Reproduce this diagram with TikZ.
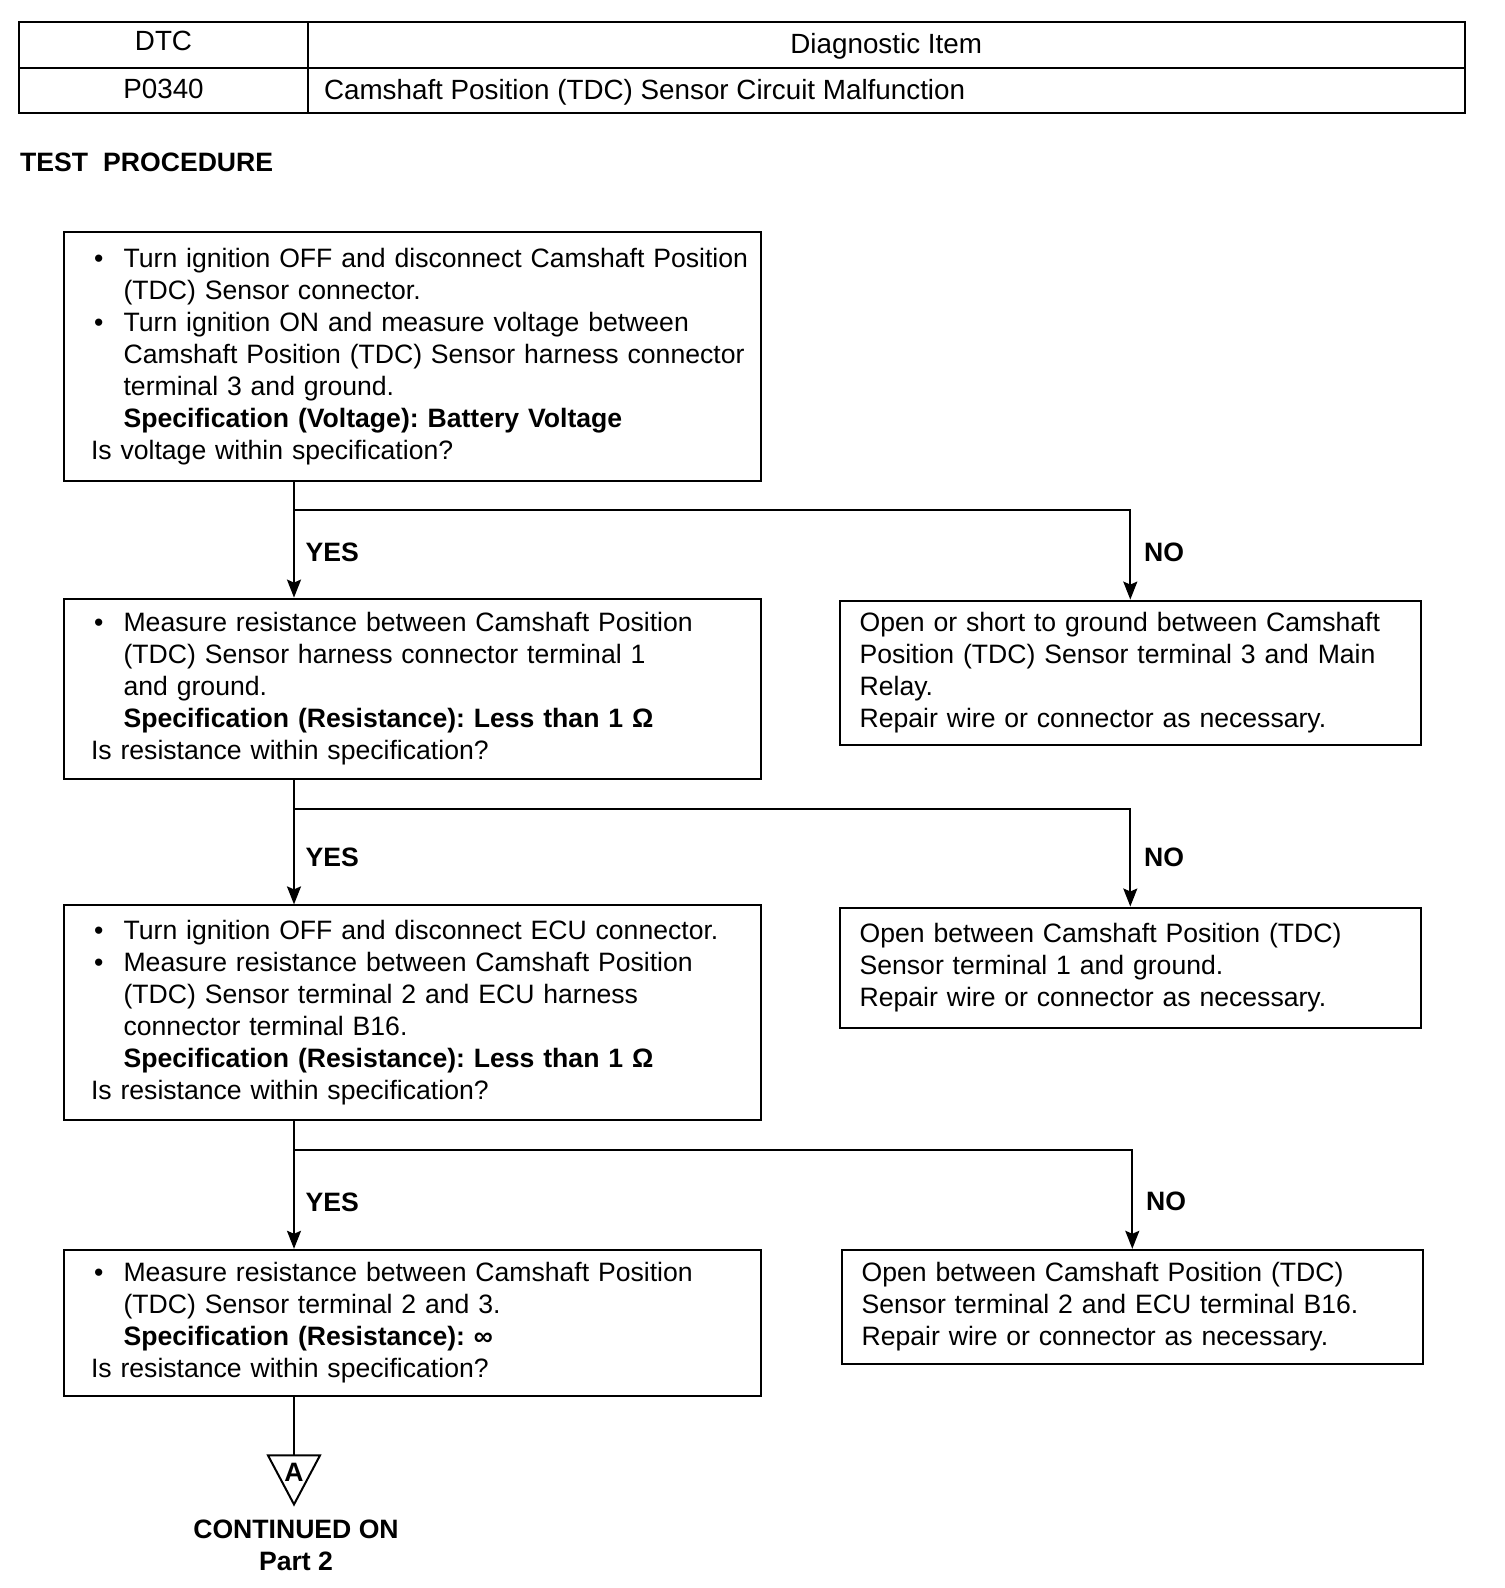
\documentclass[tikz,border=0pt]{standalone}
\usepackage{fontspec}
\setmainfont{Liberation Sans}
\usetikzlibrary{arrows.meta, positioning, calc}
\frenchspacing

\newcommand{\tpsize}{\fontsize{13.3}{16}\selectfont}
\newcommand{\tpbul}[1]{\makebox[16.3pt][l]{\hspace{1.5pt}\textbullet}\mbox{#1}}
\newcommand{\tpind}[1]{\hspace*{16.3pt}\mbox{#1}}
\newcommand{\tpspec}[1]{\hspace*{16.3pt}\mbox{\bfseries #1}}

\begin{document}
\begin{tikzpicture}[x=0.5pt, y=-0.5pt, line width=1pt, font=\tpsize,
    stepbox/.style={draw, anchor=north west, align=left, inner xsep=13.6pt, inner ysep=0pt, text width=321.2pt, minimum height=#1},
    fixbox/.style={draw, anchor=north west, align=left, inner xsep=10pt, inner ysep=0pt, text width=270.7pt, minimum height=#1},
    cell/.style={font=\fontsize{13.9}{16}\selectfont},
    answer/.style={anchor=west, font=\tpsize\bfseries},
    flow/.style={-{Stealth[length=9pt, width=7pt, inset=1.5pt]}}]
    \useasboundingbox (0,0) rectangle (1504,1588);

    % Table
    \draw (19.2,22.3) rectangle (1464.5,113.4);
    \draw (19.2,67.9) -- (1464.5,67.9);
    \draw (307.9,22.3) -- (307.9,113.4);
    \node[cell, anchor=base] (dtc) at (163.5,51) {DTC};
    \node[cell, anchor=base] (item) at (886.2,54) {Diagnostic Item};
    \node[cell, anchor=base] (code) at (163.5,99) {P0340};
    \node[cell, anchor=base west, inner xsep=0pt] (desc) at (323,100) {Camshaft Position (TDC) Sensor Circuit Malfunction};

    \node[anchor=base west, inner xsep=0pt, font=\tpsize\bfseries] (title) at (19.2,171.7) {TEST\hspace{7.5pt}PROCEDURE};

    % Test steps
    \node[stepbox=124.6pt] (b1) at (62.8,230.9) {%
        \tpbul{Turn ignition OFF and disconnect Camshaft Position}\\
        \tpind{(TDC) Sensor connector.}\\
        \tpbul{Turn ignition ON and measure voltage between}\\
        \tpind{Camshaft Position (TDC) Sensor harness connector}\\
        \tpind{terminal 3 and ground.}\\
        \tpspec{Specification (Voltage): Battery Voltage}\\
        Is voltage within specification?};
    \node[stepbox=90.1pt] (b2) at (62.8,597.6) {%
        \tpbul{Measure resistance between Camshaft Position}\\
        \tpind{(TDC) Sensor harness connector terminal 1}\\
        \tpind{and ground.}\\
        \tpspec{Specification (Resistance): Less than 1 Ω}\\
        Is resistance within specification?};
    \node[stepbox=107.4pt] (b3) at (62.8,904.4) {%
        \tpbul{Turn ignition OFF and disconnect ECU connector.}\\
        \tpbul{Measure resistance between Camshaft Position}\\
        \tpind{(TDC) Sensor terminal 2 and ECU harness}\\
        \tpind{connector terminal B16.}\\
        \tpspec{Specification (Resistance): Less than 1 Ω}\\
        Is resistance within specification?};
    \node[stepbox=72.9pt] (b4) at (62.8,1248.8) {%
        \tpbul{Measure resistance between Camshaft Position}\\
        \tpind{(TDC) Sensor terminal 2 and 3.}\\
        \tpspec{Specification (Resistance): ∞}\\
        Is resistance within specification?};

    % Repairs
    \node[fixbox=72.4pt] (n1) at (838.6,599.6) {Open or short to ground between Camshaft\\
        Position (TDC) Sensor terminal 3 and Main\\
        Relay.\\
        Repair wire or connector as necessary.};
    \node[fixbox=60.3pt] (n2) at (838.6,906.5) {Open between Camshaft Position (TDC)\\
        Sensor terminal 1 and ground.\\
        Repair wire or connector as necessary.};
    \node[fixbox=57.2pt] (n3) at (840.6,1248.8) {Open between Camshaft Position (TDC)\\
        Sensor terminal 2 and ECU terminal B16.\\
        Repair wire or connector as necessary.};

    % Flow
    \coordinate (trunk) at (294,0);
    \draw[flow] (b1.south -| trunk) -- (b2.north -| trunk);
    \draw[flow] (b1.south -| trunk) ++(0,28.3) -| (n1.north);
    \draw[flow] (b2.south -| trunk) -- (b3.north -| trunk);
    \draw[flow] (b2.south -| trunk) ++(0,29.4) -| (n2.north);
    \draw[flow] (b3.south -| trunk) -- (b4.north -| trunk);
    \draw[flow] (b3.south -| trunk) ++(0,28.4) -| (n3.north);
    \node[answer] (yes1) at (298,552) {YES};
    \node[answer] (no1) at (1136.5,552) {NO};
    \node[answer] (yes2) at (298,857.8) {YES};
    \node[answer] (no2) at (1136.5,857) {NO};
    \node[answer] (yes3) at (298,1202) {YES};
    \node[answer] (no3) at (1138.5,1201.5) {NO};

    % Continuation
    \coordinate (tri) at (294,1455.4);
    \draw (b4.south -| trunk) -- (tri);
    \draw (tri) ++(-26,0) -- ++(52,0) -- ++(-26,49) -- cycle;
    \node[font=\tpsize\bfseries] (markA) at (294,1472) {A};
    \node[align=center, font=\tpsize\bfseries] (cont) at (296,1545) {CONTINUED ON\\Part 2};
\end{tikzpicture}
\end{document}
